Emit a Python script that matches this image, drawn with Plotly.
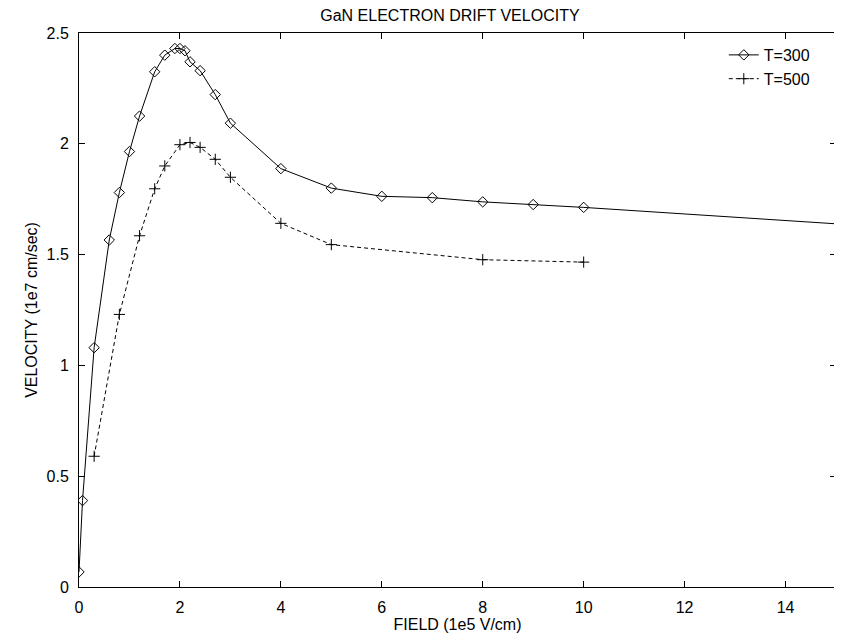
import plotly.graph_objects as go

field_300 = [0.0, 0.07, 0.3, 0.6, 0.8, 1.0, 1.2, 1.5, 1.7, 1.9, 2.0, 2.1, 2.2, 2.4, 2.7, 3.0, 4.0, 5.0, 6.0, 7.0, 8.0, 9.0, 10.0, 20.0]
vel_300 = [0.068, 0.39, 1.08, 1.566, 1.78, 1.965, 2.125, 2.325, 2.40, 2.43, 2.43, 2.42, 2.37, 2.33, 2.222, 2.093, 1.888, 1.80, 1.763, 1.757, 1.738, 1.726, 1.713, 1.565]

field_500 = [0.3, 0.8, 1.2, 1.5, 1.7, 2.0, 2.2, 2.4, 2.7, 3.0, 4.0, 5.0, 8.0, 10.0]
vel_500 = [0.59, 1.23, 1.585, 1.797, 1.90, 1.996, 2.006, 1.984, 1.93, 1.849, 1.641, 1.545, 1.477, 1.466]

x_ticks = [0, 2, 4, 6, 8, 10, 12, 14]
y_ticks = [0, 0.5, 1, 1.5, 2, 2.5]
y_tick_text = ["0", "0.5", "1", "1.5", "2", "2.5"]

FONT = "Liberation Sans, Arial, Helvetica, sans-serif"
FS = 16

fig = go.Figure()
fig.add_trace(go.Scatter(
    x=field_300, y=vel_300, name="T=300", mode="lines+markers",
    line=dict(color="black", width=1),
    marker=dict(symbol="diamond-open", size=8, color="black", line=dict(width=1, color="black")),
))
fig.add_trace(go.Scatter(
    x=field_500, y=vel_500, name="T=500", mode="lines+markers",
    line=dict(color="black", width=1, dash="4px,3px"),
    marker=dict(symbol="cross-thin-open", size=8, color="black", line=dict(width=1, color="black")),
))

axis_common = dict(
    showline=True, linecolor="black", linewidth=1, mirror="ticks",
    ticks="inside", ticklen=6, tickcolor="black", tickwidth=1,
    showgrid=False, zeroline=False, automargin=False,
    tickfont=dict(family=FONT, size=FS, color="black"),
)

# page body has an 8px margin, so the figure is 8px smaller than the window
fig.update_layout(
    width=834, height=628,
    margin=dict(l=71, r=6, t=25, b=49),
    paper_bgcolor="white", plot_bgcolor="white",
    font=dict(family=FONT, size=FS, color="black"),
    title=dict(text="GaN ELECTRON DRIFT VELOCITY", x=0.49, xref="paper", xanchor="center",
               y=0.9885, yref="container", yanchor="middle",
               font=dict(family=FONT, size=FS, color="black")),
    xaxis=dict(range=[0, 15], tickvals=x_ticks, ticklabelstandoff=6,
               title=dict(text="FIELD (1e5 V/cm)", standoff=0,
                          font=dict(family=FONT, size=FS, color="black")),
               **axis_common),
    yaxis=dict(range=[0, 2.5], tickvals=y_ticks, ticktext=y_tick_text, ticklabelstandoff=6,
               title=dict(text="VELOCITY (1e7 cm/sec)", standoff=4,
                          font=dict(family=FONT, size=FS, color="black")),
               **axis_common),
    legend=dict(x=0.972, y=0.991, xanchor="right", yanchor="top",
                bgcolor="rgba(0,0,0,0)", borderwidth=0,
                font=dict(family=FONT, size=FS, color="black"),
                tracegroupgap=0, itemwidth=30),
    showlegend=True,
)

fig.write_html("out.html")
